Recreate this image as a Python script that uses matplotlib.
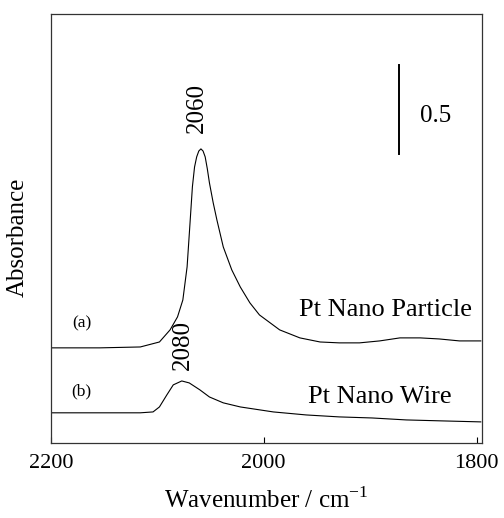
import matplotlib
matplotlib.use("Agg")
import matplotlib.pyplot as plt

plt.rcParams['font.family'] = ['Liberation Serif', 'DejaVu Serif']
plt.rcParams['mathtext.fontset'] = 'custom'
plt.rcParams['mathtext.rm'] = 'Liberation Serif'

# (a) Pt nano particle, offset spectrum
wn_a = [2200, 2154, 2116, 2098, 2088, 2081, 2076, 2072, 2069.5, 2067, 2065, 2063, 2061,
        2059, 2057, 2055, 2053, 2051, 2047.5, 2044, 2038, 2030, 2022, 2013, 2004, 1985, 1966,
        1947, 1929, 1910, 1891, 1872, 1853, 1835, 1816, 1796]
abs_a = [0.534, 0.534, 0.539, 0.567, 0.635, 0.708, 0.803, 0.989, 1.213, 1.440, 1.550, 1.607, 1.640,
         1.652, 1.640, 1.607, 1.540, 1.461, 1.350, 1.253, 1.101, 0.972, 0.876, 0.787, 0.719, 0.635, 0.590,
         0.567, 0.562, 0.562, 0.573, 0.590, 0.590, 0.584, 0.573, 0.573]

# (b) Pt nano wire
wn_b = [2200, 2116, 2104, 2098, 2091, 2085, 2077, 2070, 2060, 2051, 2038, 2022,
        1991, 1960, 1929, 1898, 1866, 1835, 1796]
abs_b = [0.169, 0.169, 0.174, 0.202, 0.270, 0.326, 0.348, 0.337, 0.298, 0.258, 0.225, 0.202,
         0.174, 0.157, 0.146, 0.140, 0.129, 0.124, 0.118]

xticks = [2200, 2000, 1800]
scale_bar = 0.5

fig = plt.figure(figsize=(5.04, 5.18), dpi=100)
ax = fig.add_axes([0.101, 0.145, 0.855, 0.828])

ax.plot(wn_a, abs_a, color='black', lw=0.8)
ax.plot(wn_b, abs_b, color='black', lw=0.8)

# scale bar
ax.plot([1873, 1873], [1.624, 1.624 + scale_bar], color='black', lw=1.4)
ax.text(1853, 1.837, f'{scale_bar}', fontsize=18, va='center', ha='left')

ax.text(2063, 1.882, '2060', rotation=90, fontsize=18, ha='center', va='center')
ax.text(2076, 0.551, '2080', rotation=90, fontsize=18, ha='center', va='center')
ax.text(2171, 0.669, '(a)', fontsize=12.5, ha='center', va='center')
ax.text(2171, 0.287, '(b)', fontsize=12.5, ha='center', va='center')
ax.text(1804, 0.747, 'Pt Nano Particle', fontsize=19, ha='right', va='center')
ax.text(1823, 0.258, 'Pt Nano Wire', fontsize=19, ha='right', va='center')

ax.set_xlim(2200, 1795)
ax.set_ylim(0, 2.41)
ax.set_xticks(xticks)
ax.set_xticklabels([str(t) for t in xticks])
ax.set_yticks([])
ax.tick_params(axis='x', direction='in', length=4, width=0.8, labelsize=16, pad=8)

for s in ax.spines.values():
    s.set_linewidth(0.9)
    s.set_color('#333333')

ax.set_xlabel('Wavenumber / cm$^{-1}$', fontsize=18, labelpad=10)
ax.set_ylabel('Absorbance', fontsize=18)
ax.yaxis.set_label_coords(-0.052, 0.48)

fig.savefig('out.png', dpi=100)
